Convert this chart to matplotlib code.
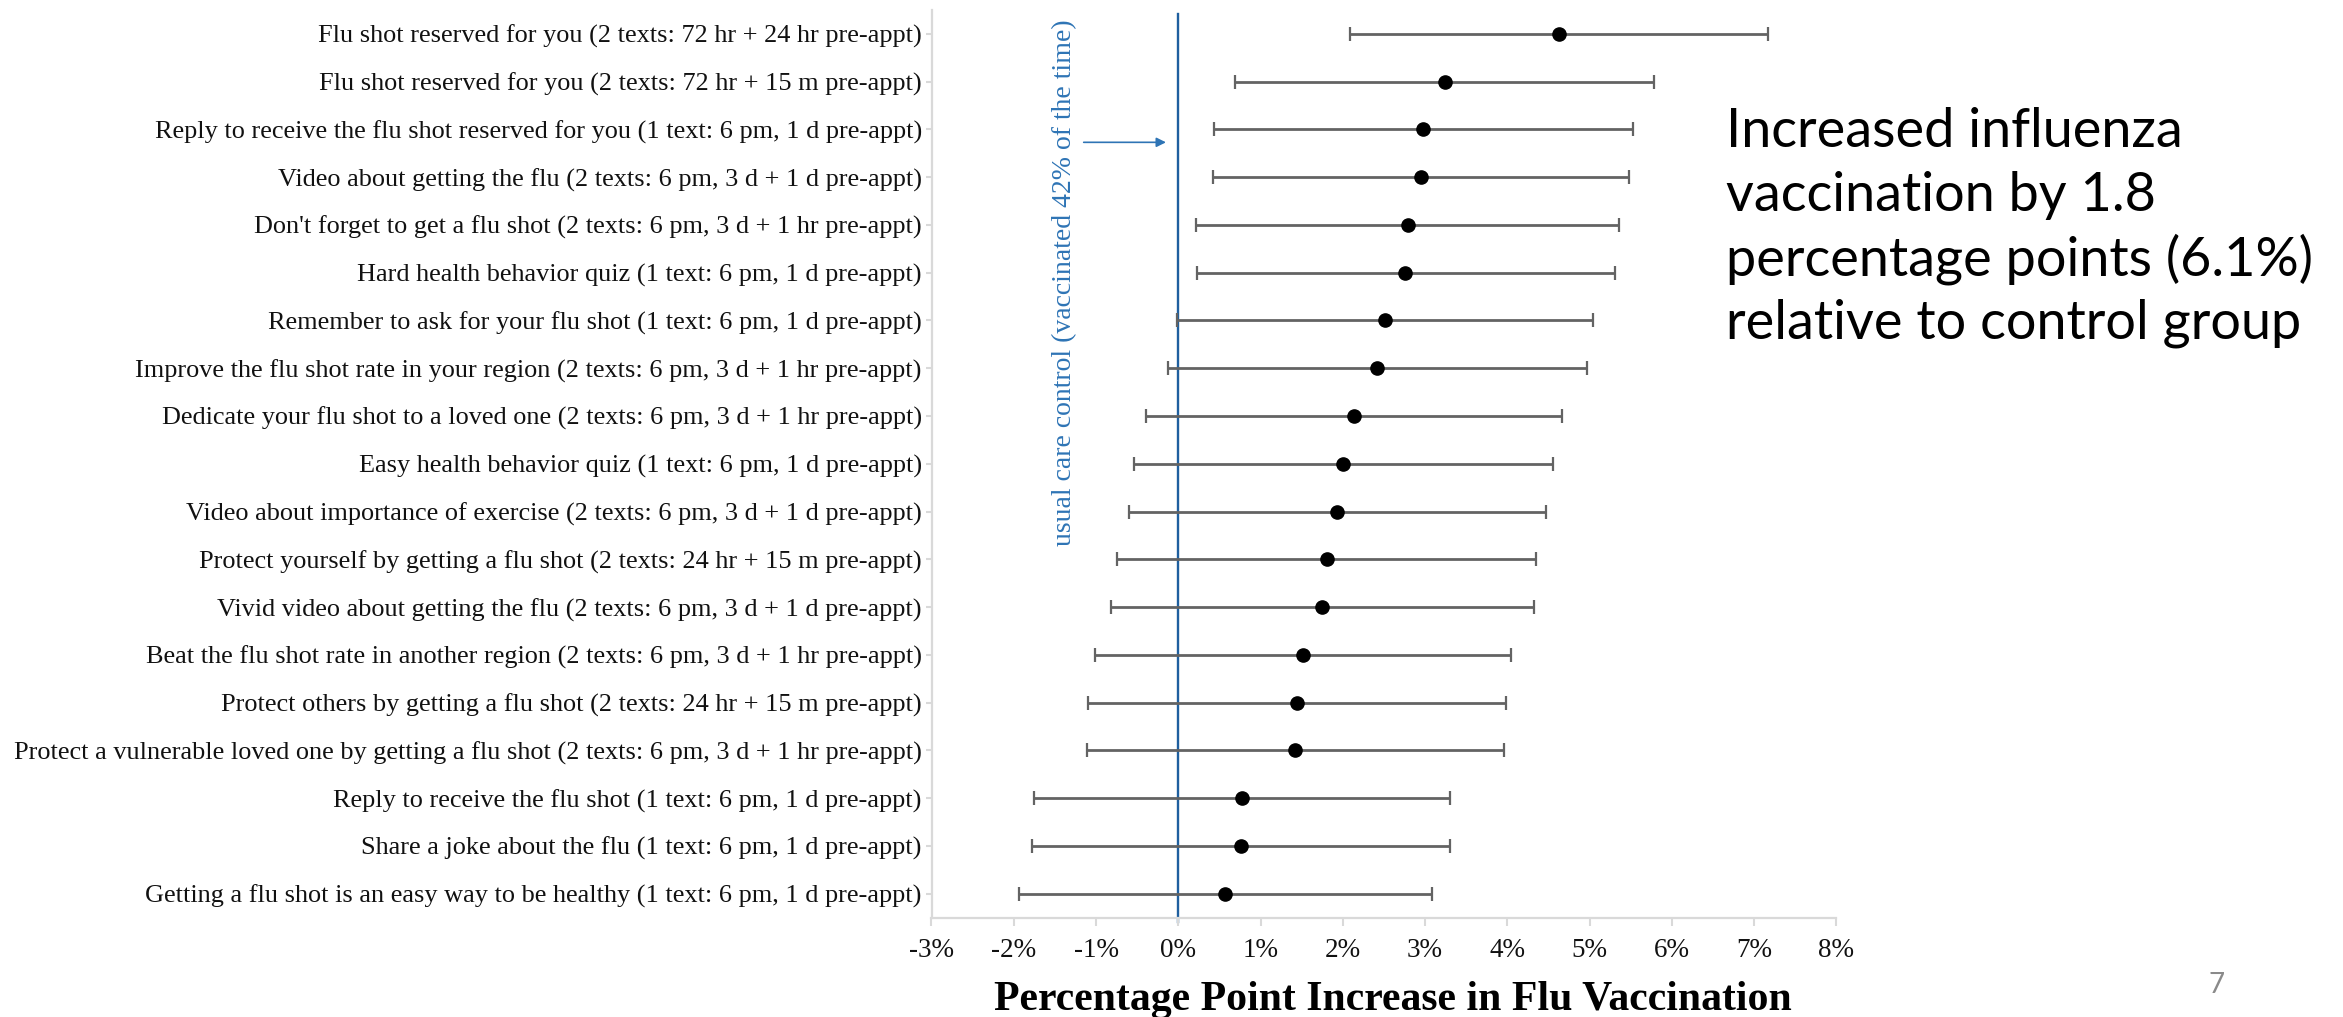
import matplotlib
matplotlib.use("Agg")
import matplotlib.pyplot as plt

labels = [
    "Flu shot reserved for you (2 texts: 72 hr + 24 hr pre-appt)",
    "Flu shot reserved for you (2 texts: 72 hr + 15 m pre-appt)",
    "Reply to receive the flu shot reserved for you (1 text: 6 pm, 1 d pre-appt)",
    "Video about getting the flu (2 texts: 6 pm, 3 d + 1 d pre-appt)",
    "Don't forget to get a flu shot (2 texts: 6 pm, 3 d + 1 hr pre-appt)",
    "Hard health behavior quiz (1 text: 6 pm, 1 d pre-appt)",
    "Remember to ask for your flu shot (1 text: 6 pm, 1 d pre-appt)",
    "Improve the flu shot rate in your region (2 texts: 6 pm, 3 d + 1 hr pre-appt)",
    "Dedicate your flu shot to a loved one (2 texts: 6 pm, 3 d + 1 hr pre-appt)",
    "Easy health behavior quiz (1 text: 6 pm, 1 d pre-appt)",
    "Video about importance of exercise (2 texts: 6 pm, 3 d + 1 d pre-appt)",
    "Protect yourself by getting a flu shot (2 texts: 24 hr + 15 m pre-appt)",
    "Vivid video about getting the flu (2 texts: 6 pm, 3 d + 1 d pre-appt)",
    "Beat the flu shot rate in another region (2 texts: 6 pm, 3 d + 1 hr pre-appt)",
    "Protect others by getting a flu shot (2 texts: 24 hr + 15 m pre-appt)",
    "Protect a vulnerable loved one by getting a flu shot (2 texts: 6 pm, 3 d + 1 hr pre-appt)",
    "Reply to receive the flu shot (1 text: 6 pm, 1 d pre-appt)",
    "Share a joke about the flu (1 text: 6 pm, 1 d pre-appt)",
    "Getting a flu shot is an easy way to be healthy (1 text: 6 pm, 1 d pre-appt)",
]
effect = [4.63, 3.24, 2.98, 2.95, 2.79, 2.76, 2.51, 2.42, 2.13, 2.00,
          1.93, 1.81, 1.75, 1.51, 1.44, 1.42, 0.77, 0.76, 0.57]
ci_low = [2.09, 0.69, 0.43, 0.42, 0.22, 0.23, -0.02, -0.13, -0.39, -0.54,
          -0.60, -0.74, -0.82, -1.01, -1.10, -1.11, -1.75, -1.78, -1.94]
ci_high = [7.17, 5.78, 5.53, 5.48, 5.36, 5.31, 5.04, 4.97, 4.66, 4.55,
           4.47, 4.35, 4.33, 4.04, 3.98, 3.96, 3.30, 3.30, 3.09]
x_ticks = list(range(-3, 9))
x_tick_labels = [f"{t}%" for t in x_ticks]
control_label = "usual care control (vaccinated 42% of the time)"
x_title = "Percentage Point Increase in Flu Vaccination"
summary_lines = ["Increased influenza", "vaccination by 1.8",
                 "percentage points (6.1%)", "relative to control group"]
page_number = "7"

W, H = 2343, 1017
fig = plt.figure(figsize=(W / 100, H / 100), dpi=100)
ax = fig.add_axes([931.5 / W, 1 - 917.6 / H, (1836.4 - 931.5) / W, (917.6 - 10) / H])

serif = "Liberation Serif"
ypos = list(range(len(labels)))
err_lo = [e - l for e, l in zip(effect, ci_low)]
err_hi = [h - e for e, h in zip(effect, ci_high)]

ax.axvline(0, ymin=-0.005, ymax=0.996, color="#1f5f9f", lw=1.7, zorder=1, clip_on=False)
ax.errorbar(effect, ypos, xerr=[err_lo, err_hi], fmt="o", color="black",
            ecolor="#636363", elinewidth=2.0, capsize=5, capthick=1.6,
            markersize=9.5, zorder=3)

ax.set_xlim(-3, 8)
ax.set_ylim(len(labels) - 0.5, -0.5)
ax.set_xticks(x_ticks)
ax.set_xticklabels(x_tick_labels, fontfamily=serif, fontsize=19.5, color="#111111")
ax.set_yticks(ypos)
yt = ax.set_yticklabels(labels, fontfamily=serif, fontsize=17, color="#111111")
ax.tick_params(axis="x", length=5.5, width=1.5, color="#d9d9d9", pad=9)
ax.tick_params(axis="y", length=4, width=1.5, color="#d9d9d9", pad=3)
for s in ["top", "right"]:
    ax.spines[s].set_visible(False)
for s in ["left", "bottom"]:
    ax.spines[s].set_color("#d9d9d9")
    ax.spines[s].set_linewidth(1.6)

blue_txt = "#2e74b5"
vt = ax.text(-1.385, -0.31, control_label, rotation=90, ha="center", va="top",
             fontfamily=serif, fontsize=18.5, color=blue_txt, zorder=2)
ax.annotate("", xy=(-0.15, 2.27), xytext=(-1.15, 2.27),
            arrowprops=dict(arrowstyle="-|>", color=blue_txt, lw=1.2,
                            mutation_scale=14, shrinkA=0, shrinkB=0))

xt = fig.text((994 + 1792) / 2 / W, 1 - 1010 / H, x_title, ha="center", va="baseline",
              fontfamily=serif, fontweight="bold", fontsize=26)

baselines = [147, 211, 275, 338]
st = []
for line, b in zip(summary_lines, baselines):
    st.append(fig.text(1726.5 / W, 1 - b / H, line, ha="left", va="baseline",
                       fontfamily="Lato", fontsize=36, color="black"))

fig.text(2216.5 / W, 1 - 993 / H, page_number, ha="center", va="baseline",
         fontfamily="Lato", fontsize=20, color="#8a8a8a")

# fit text sizes to the reference extents
fig.canvas.draw()
r = fig.canvas.get_renderer()
longest = max(yt, key=lambda t: t.get_window_extent(r).width)
scale = 905 / longest.get_window_extent(r).width
for t in yt:
    t.set_fontsize(t.get_fontsize() * scale)
xt.set_fontsize(xt.get_fontsize() * 798 / xt.get_window_extent(r).width)
vt.set_fontsize(vt.get_fontsize() * 528 / vt.get_window_extent(r).height)
s2 = 588 / st[2].get_window_extent(r).width
for t in st:
    t.set_fontsize(t.get_fontsize() * s2)

fig.savefig("out.png", dpi=100, facecolor="white")
